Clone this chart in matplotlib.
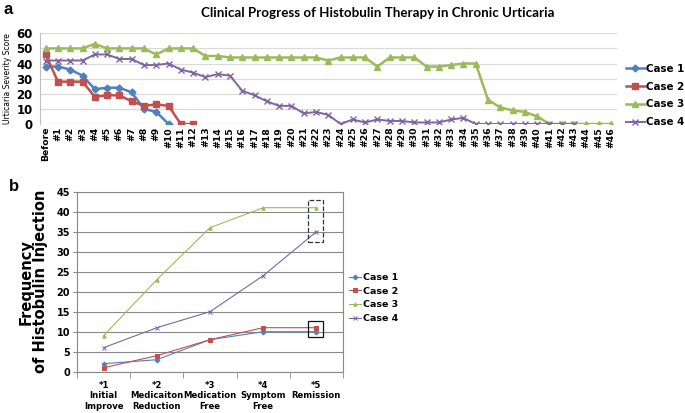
import matplotlib
matplotlib.use("Agg")
import matplotlib.pyplot as plt
from matplotlib.patches import Rectangle

# Panel a: severity score per visit
visits = ["Before"] + ["#%d" % i for i in range(1, 47)]
case1_a = [38, 38, 36, 32, 23, 24, 24, 21, 10, 8, 0]
case2_a = [46, 28, 28, 28, 18, 19, 19, 15, 12, 13, 12, 0, 0]
case3_a = [50, 50, 50, 50, 53, 50, 50, 50, 50, 46, 50, 50, 50, 45, 45, 44,
           44, 44, 44, 44, 44, 44, 44, 42, 44, 44, 44, 38, 44, 44, 44, 38,
           38, 39, 40, 40, 16, 11, 9, 8, 5, 0, 0, 0, 0, 0, 0]
case4_a = [42, 42, 42, 42, 46, 46, 43, 43, 39, 39, 40, 36, 34, 31, 33, 32,
           22, 19, 15, 12, 12, 7, 8, 6, 0, 3, 1, 3, 2, 2, 1, 1, 1, 3, 4, 0,
           0, 0, 0, 0, 0, 0, 0, 0]

# Panel b: cumulative injections at each milestone
stages = ["*1\nInitial\nImprove", "*2\nMedicaiton\nReduction",
          "*3\nMedication\nFree", "*4\nSymptom\nFree", "*5\nRemission"]
case1_b = [2, 3, 8, 10, 10]
case2_b = [1, 4, 8, 11, 11]
case3_b = [9, 23, 36, 41, 41]
case4_b = [6, 11, 15, 24, 35]

labels = ["Case 1", "Case 2", "Case 3", "Case 4"]
colors = ["#4F81BD", "#C0504D", "#9BBB59", "#8064A2"]
markers = ["D", "s", "^", "x"]

W, H = 685, 413
fig = plt.figure(figsize=(W / 100, H / 100), dpi=100)


def box(l, t, r, b):
    return [l / W, 1 - b / H, (r - l) / W, (b - t) / H]


# ---- panel a
ax = fig.add_axes(box(39.5, 33.3, 617, 124))
series_a = [case1_a, case2_a, case3_a, case4_a]
for vals, c, m, lab in zip(series_a, colors, markers, labels):
    ax.plot(range(len(vals)), vals, color=c, marker=m,
            lw=1.8 if m != "x" else 1.4,
            ms=4.5 if m != "D" else 3.5, mew=1.0, label=lab)
ax.set_xlim(-0.5, 46.5)
ax.set_ylim(0, 60)
ax.set_yticks(range(0, 61, 10))
ax.set_xticks(range(len(visits)))
ax.set_xticklabels(visits, rotation=90, fontsize=6.7, fontweight="bold")
for t in ax.get_yticklabels():
    t.set_fontsize(8.5)
    t.set_fontweight("bold")
ax.tick_params(length=0, pad=2)
ax.tick_params(axis="y", pad=5)
ax.grid(axis="y", color="#d9d9d9", lw=0.8)
ax.set_axisbelow(True)
for s in ["top", "right", "bottom"]:
    ax.spines[s].set_visible(False)
ax.spines["left"].set_color("#bfbfbf")
ax.axhline(0, color="#bfbfbf", lw=0.8, zorder=0)
ax.set_ylabel("Urticaria Severity Score", fontsize=5.5, labelpad=3)
fig.legend(*ax.get_legend_handles_labels(), loc="upper left",
           bbox_to_anchor=(626 / W, 1 - 64 / H), frameon=False,
           prop={"size": 7.4, "weight": "bold"}, handlelength=1.8,
           borderaxespad=0.0, borderpad=0.0, labelspacing=0.75,
           handletextpad=0.15)

fig.text(378 / W, 1 - 13 / H, "Clinical Progress of Histobulin Therapy in Chronic Urticaria",
         ha="center", va="center", fontsize=9.6, fontweight="bold",
         family="Lato")
fig.text(8 / W, 1 - 10 / H, "a", ha="center", va="center", fontsize=12,
         fontweight="bold", family="Liberation Sans")
fig.text(14 / W, 1 - 186 / H, "b", ha="center", va="center", fontsize=12,
         fontweight="bold", family="Liberation Sans")

# ---- panel b
bx = fig.add_axes(box(77, 191.7, 343, 371.7))
series_b = [case1_b, case2_b, case3_b, case4_b]
for vals, c, m, lab in zip(series_b, colors, markers, labels):
    bx.plot(range(len(vals)), vals, color=c, marker=m, lw=0.8,
            ms=2.5 if m != "x" else 3, mew=0.7, label=lab)
bx.set_xlim(-0.5, 4.5)
bx.set_ylim(0, 45)
bx.set_yticks(range(0, 46, 5))
bx.set_xticks(range(len(stages)))
bx.set_xticklabels(stages, fontsize=6.1, fontweight="bold", linespacing=1.15)
for t in bx.get_yticklabels():
    t.set_fontsize(7)
    t.set_fontweight("bold")
bx.set_xticks([i - 0.5 for i in range(6)], minor=True)
bx.tick_params(axis="x", which="major", length=0, pad=7)
bx.tick_params(axis="x", which="minor", length=4, color="#888888")
bx.tick_params(axis="y", length=3, color="#888888", pad=2)
bx.grid(axis="y", color="#888888", lw=0.8)
bx.set_axisbelow(True)
for s in bx.spines.values():
    s.set_color("#888888")
bx.set_ylabel("Frequency\nof Histobulin Injection", fontsize=10.5,
              fontweight="bold", linespacing=1.0, labelpad=6)
bx.legend(loc="upper left", bbox_to_anchor=(1.01, 0.57), frameon=False,
          prop={"size": 6.8, "weight": "bold"}, handlelength=1.2,
          borderaxespad=0.0, labelspacing=0.5, handletextpad=0.2)

bx.add_patch(Rectangle((3.85, 32.5), 0.27, 10.4, fill=False, ls="--",
                       lw=0.9, ec="#333333", zorder=5))
bx.add_patch(Rectangle((3.85, 8.75), 0.27, 4.0, fill=False, ls="-",
                       lw=0.9, ec="#111111", zorder=5))

fig.savefig("out.png", dpi=100)
